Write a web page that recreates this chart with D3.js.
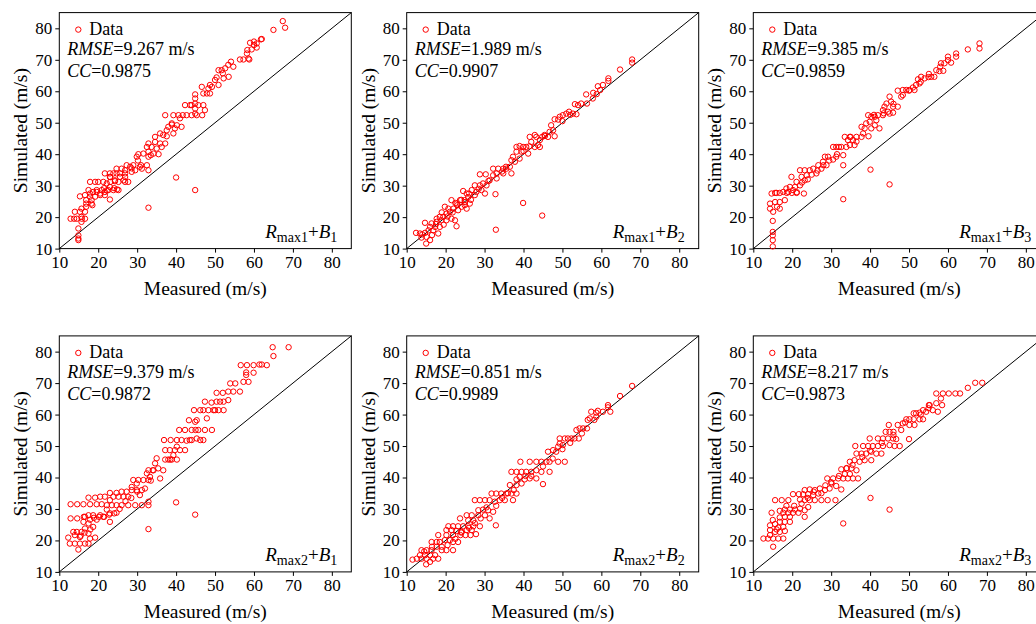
<!DOCTYPE html>
<html lang="en">
<head>
<meta charset="UTF-8">
<title>Measured vs Simulated</title>
<style>
  html, body { margin: 0; padding: 0; background: #fff; overflow: hidden; }
  svg text { font-family: "Liberation Serif", "Times New Roman", serif; fill: #000; }
</style>
</head>
<body>
<svg id="chart" width="1036" height="624"></svg>
<script src="https://d3js.org/d3.v7.min.js"></script>
<script>
// tick labels shared by both axes
const ticks = [10, 20, 30, 40, 50, 60, 70, 80];
// panel names: R_max? + B_?
const rSub = ["max1", "max1", "max1", "max2", "max2", "max2"];
const bSub = ["1", "2", "3", "1", "2", "3"];
const rmse = ["9.267", "1.989", "9.385", "9.379", "0.851", "8.217"];
const cc = ["0.9875", "0.9907", "0.9859", "0.9872", "0.9989", "0.9873"];

// [measured, simulated]
const ptsR1B1 = [[67.4,82.3],[68,80.2],[65,79.5],[61.8,76.5],[62,76.6],[60,75.8],[60,74.7],[59,75.4],[60.7,73.9],[60.7,75.2],[59.4,73.3],[58.3,73.1],[58.2,72],[58.6,70.4],[57.3,70.1],[58.8,70.1],[56.4,70.1],[54.7,67.8],[54.1,69.4],[53.4,68.4],[52.6,67.3],[51.7,66.7],[50.9,66.7],[52,65.7],[52.2,64.1],[53.5,64.6],[50.4,64.4],[50,63.6],[50.9,62],[49.2,61.4],[48.3,60.9],[48.7,62],[46.6,61.4],[47,59.3],[47.9,59.3],[48.7,59.3],[44.9,59],[44.9,57.7],[44.9,56.1],[44.9,54.5],[44.9,52.9],[43.6,55.6],[42.3,55.6],[45.7,55.6],[47,55.6],[47.4,54],[46.7,52.4],[42.7,52.4],[41.7,52.4],[41,51.4],[40.6,52.4],[39.3,52.4],[37.2,52.4],[38.9,49.8],[40.2,49.2],[41.4,48.7],[39.7,48.2],[38,48.7],[37.6,47.6],[39.3,46.6],[36.7,46.1],[37.6,45.7],[35.9,46.6],[34.6,45.5],[34.6,43.9],[32.9,43.4],[35.9,43.4],[37.2,43.4],[33.7,42.3],[35,41.8],[36.3,42.3],[32.5,42.3],[32.9,40.8],[34.2,40.2],[35.5,40],[31.6,40.2],[30.3,40],[29.9,39.2],[32.9,39.2],[32.5,36.5],[32.9,34.9],[30.7,36],[29,36.5],[28.2,36],[27.3,36.5],[29.5,34.9],[28.6,34.4],[26.9,34.9],[26,35.4],[24.7,35.4],[24.7,33.9],[23.9,33.9],[23,33.9],[23,32.8],[24.3,31.7],[25.6,32.8],[26.5,31.7],[27.7,31.2],[25.2,31.2],[21.7,33.9],[21.3,31.2],[20,31.2],[19.2,31.2],[17.9,31.2],[22.2,30.7],[23,29.6],[23.9,28.6],[25.2,28.6],[22.6,28.6],[21.7,28],[20.9,28.6],[20.5,27.5],[19.6,28],[18.7,28],[17.9,27.5],[17.5,28.6],[16.6,27],[17.9,26.5],[19.2,26.5],[20.5,27],[21.7,27],[23,25.6],[16.9,25.4],[18.3,25.4],[16.9,24.3],[18.3,24.3],[16.9,23.3],[18.5,23.8],[15.3,26.6],[15.7,22.7],[15.3,21.7],[14,21.7],[15.7,20.1],[14.5,19.5],[12.9,19.5],[16.6,19.5],[15.7,18.5],[14.9,16.4],[14.9,14.2],[14.9,13.2],[14.9,12.7],[13.8,19.5],[15.8,19.5],[16.6,21.7],[19.6,28.6],[22.2,28.5],[24.8,28.8],[21.5,29.2],[24.1,29.2],[23.1,31.2],[24.3,31.4],[26.9,31.2],[23.1,32.7],[26.9,32.8],[25.6,33.9],[26.9,33.9],[28.6,35.5],[31.2,35.4],[33.5,39.7],[38.9,49.4],[44,52.4],[45.3,52.4],[44,55.6],[30.2,38],[31,36.5],[32.9,23],[40,32.6],[44.9,28.6]];

const ptsR1B2 = [[67.9,70.1],[67.9,69.1],[64.8,66.9],[61.8,64.1],[61.8,63.3],[60.4,62],[59.1,61.6],[59.7,60.4],[58.8,59.1],[57.9,59.5],[57.8,57.7],[56.1,59],[56.3,56.1],[54.8,56.1],[54,55.6],[53.2,55.9],[53.6,52.7],[52.7,52.9],[51.7,53.5],[51,52.9],[50.1,52.4],[49.3,51.9],[48.9,51],[48,51.1],[47.1,49.2],[47.6,47.6],[48,45.7],[46.7,47.1],[46.3,45.5],[45.4,46.1],[44.8,45.5],[44.2,44.5],[43.3,45.5],[42.9,46.1],[41.6,45.5],[42,43.9],[40.7,42.3],[39.9,42.3],[39,42.6],[38.2,42.3],[39.5,40.8],[41.2,40.2],[42.9,42.3],[44.2,42.3],[43.7,42.9],[38.2,40.8],[37.3,39.2],[36.9,38.1],[39,38.6],[37.8,37.6],[36.5,36],[35.6,35.4],[34.8,35.4],[33.5,35.4],[32.2,35.4],[36.9,33.9],[34.8,33.9],[33.1,33.9],[32.2,33.3],[33.1,32.3],[31.3,31.7],[30.5,30.1],[29.6,30.7],[28.8,30.1],[27.5,30.1],[30.3,33.6],[28.8,33.6],[29.2,28.6],[27.9,28],[26.7,28.6],[24.5,28.3],[30.1,27.5],[25.4,27.5],[25.8,26.4],[24.9,25.4],[23.7,25.4],[22.8,24.3],[21.5,25.4],[26.2,24.3],[24.9,23.8],[24.1,23.3],[25.4,22.7],[23.2,22.2],[22,22.7],[20.7,22.7],[19.8,23.3],[21.1,21.7],[20.2,21.1],[19.4,20.1],[18.5,20.1],[17.7,19.5],[18.9,19],[20.2,19],[21.5,19.5],[22.4,19],[17.7,18.5],[16.4,18],[14.7,18.2],[16,16.9],[17.3,16.9],[18.5,16.9],[15.6,15.8],[16.8,15.8],[14.7,15],[13.4,14.8],[12.4,15],[13.8,13.5],[15.1,13.7],[15,11.6],[16,12.7],[18.1,14.8],[19,21.5],[20.5,20.2],[21.8,21.5],[23,23.8],[17.5,17.8],[19.5,17.6],[22.5,24.5],[24,25.5],[25,24.8],[26.5,25.5],[27.5,27],[28.5,29],[26,27.5],[31,31.5],[34.5,34.5],[35.5,36],[40,41],[41.5,42.5],[45.5,45.8],[50,50.5],[52,52.5],[14,14.5],[16.5,14.3],[22.8,17.1],[32.8,27.3],[32.9,16],[39.9,24.5],[44.8,20.5]];

const ptsR1B3 = [[68.1,75.2],[68.1,73.6],[65.1,73.3],[62.1,72],[62.1,71],[60,71],[60,69.9],[60.8,69.1],[59.1,68.9],[58.2,68.9],[58,67.8],[57.8,66.4],[58.8,66.5],[57,66.7],[56.5,64.6],[55.7,64.6],[55.1,65.5],[54,64.1],[53.1,64.6],[52.3,63.8],[52.7,62.5],[51.8,62],[51,61.2],[51.4,60.4],[50.1,60.4],[49.3,60.4],[48.4,60.4],[47.1,60.2],[48,58.3],[48.4,58.8],[45,58.3],[45.4,56.7],[45.9,55.1],[47.1,55.1],[44.2,56.1],[43.7,55.1],[43.3,54],[44.6,53.5],[43.3,52.4],[45,52.9],[45.9,53.2],[42,52.4],[41.2,51.9],[39.5,52.4],[40.3,51.9],[41.6,50.8],[39.9,50.3],[41.2,49.2],[40.3,48.2],[42.4,48.2],[38.6,48.2],[37.8,48.7],[39,49.8],[38.2,46.6],[39.6,45.7],[37.8,45.5],[36.5,45.5],[34.8,45.5],[33.5,45.5],[34.3,44.5],[35.6,44.5],[34.8,42.9],[36,42.9],[33.9,42.3],[32.6,42.3],[31.3,42.3],[30.5,42.3],[33.1,39.7],[31.3,39.2],[30.5,38.3],[29.2,39.2],[28.4,39.2],[27.9,37.6],[28.8,36.5],[27.5,35.4],[26.7,36.5],[25.4,35.4],[26.2,33.9],[24.5,34.9],[23.2,34.9],[22,34.9],[23.7,33.3],[22.4,32.8],[23.2,31.7],[21.1,31.2],[19.8,32.8],[22,30.1],[20.7,29.6],[19.4,29.6],[18.5,29.1],[20.2,28.6],[19,28],[17.7,28],[16.8,27.7],[15.6,27.7],[14.7,27.5],[21.1,27.7],[23,27.5],[18.1,25.4],[16.8,24.8],[15.6,24.8],[14.3,24.3],[16.1,23.3],[16.8,22.7],[14.3,22.7],[15.1,21.7],[15,18.8],[15,15.3],[15,14.2],[15,12.7],[15,10.7],[16,27.7],[18.6,27.7],[19.9,27.7],[21.2,27.9],[22.5,31],[24,32],[25,33.5],[26.5,34.8],[28,36.5],[29.5,38],[31.5,40],[32,42.3],[35,45.5],[36.5,44],[41,52.5],[43.5,53],[46,56],[50,60.2],[53,63],[55,64.5],[33.1,36.5],[33.1,25.7],[40.1,35.1],[45,30.4]];

const ptsR2B1 = [[64.8,81.4],[68.9,81.4],[65,78.6],[63.3,75.7],[62,75.9],[61.4,75.9],[59.9,75.7],[58.2,75.7],[56.6,75.7],[58,73.4],[58,72.6],[59.9,73.3],[58.6,70.4],[57.3,70.4],[56.4,67.3],[54.7,67.3],[55.2,69.9],[53.9,69.9],[53.4,67.3],[53.4,64.6],[52.2,64.1],[51.3,64.1],[50.4,64.1],[50.4,66.9],[52,66.9],[52.2,61.4],[50.9,61.4],[49.6,61.4],[48.3,61.4],[47,61.4],[46.2,61.4],[44.6,61.4],[47.4,64.1],[49.1,63.8],[47.9,58.8],[45.3,58.2],[43.3,58.2],[44.9,57.7],[49.2,55.1],[47.4,55.1],[45.7,55.1],[44,55.1],[42.3,55.1],[40.8,55.1],[46.2,51.9],[47,51.9],[45.3,52.4],[44,51.9],[42.7,51.7],[41.4,51.9],[40.2,51.9],[38.6,51.9],[36.9,51.9],[42.3,48.7],[41,48.7],[39.7,48.7],[38.4,48.7],[37.2,48.7],[40.2,49.8],[39.3,47.1],[40.2,45.7],[38.9,45.7],[38,45.7],[37.2,45.7],[35,46.1],[34.6,44.5],[35.4,42.9],[36.7,42.3],[34.2,42.3],[32.9,42.3],[32.5,41.3],[33.3,40.2],[35.9,39.7],[32.9,39.2],[31.6,39.2],[30.3,39.2],[29,39.2],[29.9,38.1],[28.6,37],[31.2,36],[29.9,36],[28.6,36],[27.3,35.5],[26,35.5],[24.7,35.1],[23,35.1],[23.9,33.9],[25.2,33.9],[26.5,33.9],[27.7,33.9],[30.7,34.4],[23,32.8],[21.7,33.9],[20.5,33.9],[19.2,33.6],[17.5,33.6],[20.9,31.5],[19.6,31.5],[17.9,31.5],[16.2,31.5],[14.6,31.5],[12.9,31.5],[22.2,31.2],[23.5,31.2],[24.7,31.2],[26,31.2],[27.7,31.2],[29.5,31.2],[31.2,31.2],[32.9,31.2],[24.7,28.8],[22.2,29.8],[23,28.6],[21.3,27.5],[20.5,28],[18.7,28],[17.5,28],[16.6,27.5],[12.9,27],[14.6,27],[17.9,26.6],[19.6,26.6],[23,25.9],[16.2,25.9],[17.5,25.4],[18.7,24.3],[16.6,23.8],[17.5,22.2],[15.7,22.7],[14.5,22.7],[13.6,22.7],[15.3,21.1],[14,21.7],[12.3,20.9],[12.7,19],[14,19],[15.3,19],[16.6,19],[17.5,19],[19.2,20.9],[17.9,20.6],[14.9,17.1],[16.3,27.5],[18.9,27.2],[20.2,27.5],[21.5,27.5],[22.8,28.2],[24.1,28.6],[25.5,30],[27,32.5],[28.5,33.5],[30,35.5],[32,36.5],[33.5,39],[34,42.3],[38.5,45.7],[43.5,51.9],[45,55.1],[50,61.4],[15.5,21.5],[16.5,22.5],[18,23.5],[32.9,32.3],[32.9,23.6],[40,32.1],[44.9,28.2]];

const ptsR2B2 = [[67.9,69.1],[64.8,65.9],[61.7,63],[61.7,62.3],[62.3,60.9],[60.4,60.9],[59.1,61.2],[58.7,60.6],[57.4,60.9],[57,58.8],[58.2,58.3],[58.7,59.3],[56.5,58.3],[56.3,55.6],[55.3,55.6],[54.4,55.6],[53.6,55.1],[54.2,52.4],[53.1,52.4],[52.3,52.4],[51.4,52.4],[50.6,52.4],[49.3,52.4],[49.3,50.8],[50.1,50.3],[48.9,49.8],[48.4,48.2],[47.6,48.7],[46.3,48.2],[50.6,45],[48.9,45],[46.7,45],[45.9,45],[44.6,45],[43.3,45],[41.6,45],[39.2,45],[45,37.9],[46.7,41.8],[44.6,41.8],[43.3,42.3],[42,41.8],[40.7,41.8],[39.5,41.8],[38.2,41.8],[36.9,41.8],[43.3,39.7],[41.6,39.7],[40.3,39.4],[39,40.2],[38.2,39.4],[39.5,38.1],[38.2,37.6],[36.5,37.6],[35.6,34.9],[36.9,34.9],[34.3,34.9],[33,34.9],[31.8,34.9],[38.2,34.9],[35.2,32.8],[33.9,32.8],[32.6,32.3],[31.3,32.8],[30.1,32.8],[28.8,32.8],[27.5,32.8],[37.3,32.8],[30.9,29.6],[29.6,29.8],[28.4,29.6],[32.2,29.1],[30.1,28],[31.3,27],[28.4,28],[26.7,28],[25.4,28],[27.1,26.4],[25.8,26.4],[23.7,27],[28.8,24.5],[27.1,24.5],[25.8,24.5],[24.5,24.5],[23.2,24.5],[21.9,24.5],[20.7,24.5],[26.7,23.3],[25.4,23.3],[24.1,22.7],[22.8,23],[21.5,23.3],[20.2,23.3],[27.8,22],[26.4,21.7],[25.1,21.7],[23.8,21.7],[21.9,21.7],[20.2,21.7],[18.1,21.7],[21.9,19.5],[21.1,20.1],[19.8,20.1],[18.5,19.5],[17.7,19.5],[16.4,19.5],[23.2,19.5],[21.9,16.9],[20.2,16.9],[19,16.9],[17.7,18],[16.4,16.9],[15.1,16.9],[13.8,16.9],[17.3,15.3],[16,15.3],[14.7,15.3],[13.4,15.3],[18.1,14.2],[16.8,14.2],[15.1,14.2],[13.8,14.2],[12.6,14.2],[11.5,13.9],[15,12.4],[16,13.2],[19,18],[20.5,18.5],[22.5,20.5],[24,22.5],[26,24],[27.5,25.5],[29,27],[30.5,30.5],[33,31],[34.5,33.5],[36,35],[37.5,36],[40.5,40.5],[42,40.5],[45,43.5],[47.5,46],[50,49],[52,51],[55,54],[14.5,16.5],[16.5,18],[32.9,24.8]];

const ptsR2B3 = [[67,70.1],[68.8,70.1],[65.1,68.5],[63.1,66.7],[61.9,66.7],[60.2,66.7],[58.7,66.7],[57,66.7],[58.2,65.1],[57,63.6],[58.5,63],[55.3,63],[57.4,60.9],[56.1,61.4],[54.4,60.9],[55.1,63],[53.6,61.4],[52.7,60.6],[51.8,60.4],[51.2,60.4],[51.2,58.5],[52.7,58.5],[53.6,58.5],[50.1,58.5],[49.3,58.5],[48.4,57.2],[50.1,56.7],[51.4,56.7],[47.1,56.7],[44.8,56.7],[45,54.5],[46,54.5],[44,54.5],[48,55.1],[50,52.2],[46.7,52.2],[45.9,52.4],[44.6,52.4],[43.3,52.4],[42,52.4],[39.9,52.4],[45,50.3],[46.3,50],[47.6,50],[43.3,50],[42,50],[40.7,50],[39.5,50],[38.2,50],[36.2,50],[42.9,47.6],[41.6,47.6],[40.3,48.2],[39,47.6],[37.8,47.6],[36.5,47.6],[40.3,45.5],[38.6,45.5],[37.3,45],[36,45.5],[34.8,45],[36.5,42.3],[35.2,42.9],[33.9,42.9],[32.6,42.6],[34.8,41.1],[33.5,41.1],[36.9,39.7],[35.6,39.7],[34.3,39.7],[33.1,39.7],[31.8,39.7],[30.5,39.7],[29,39.7],[30.1,38.1],[31.3,37.3],[32.6,36.2],[29.6,36.5],[28.4,36],[27.1,36.5],[25.8,36],[24.5,36.2],[23.2,36],[26.7,34.9],[25.4,34.4],[24.1,34.7],[22.8,34.7],[21.7,34.7],[20.2,34.7],[24.5,32.8],[25.8,32.8],[27.5,32.8],[29.1,32.8],[31.1,32.8],[23.2,32.8],[19,32.8],[17.3,32.8],[15.6,32.8],[22.4,31.7],[24.1,30.6],[23.2,29.6],[22,30.1],[20.7,29.8],[19.4,29.8],[18.1,29.8],[16.8,29.4],[21.6,28.8],[20.2,28.8],[19,28.8],[17.7,28.8],[14.7,28.8],[23.2,27.5],[19.4,27.5],[18.1,27.5],[16.8,27.3],[19.4,25.9],[18.1,25.9],[16.8,25.9],[15.6,25.2],[14.3,24.8],[17.7,24.3],[16.4,24.1],[14.3,23.3],[18.1,23],[16.8,22.7],[15.6,22.7],[14.3,21.7],[17.7,20.6],[16.4,20.6],[15.1,20.6],[13.8,20.6],[12.6,20.6],[15.1,18],[18.5,31],[20.5,31],[22,33],[24,33.5],[25.5,35.5],[27.5,35],[28.5,37.5],[30,38.5],[32,40.5],[34,43],[35.5,44],[38,46.5],[40,48.5],[43,51],[46,53.5],[49,57.5],[53,60],[55,62],[16,23.5],[15,26.5],[33.1,25.4],[40.1,33.5],[45,29.8]];

const panels = [ptsR1B1, ptsR1B2, ptsR1B3, ptsR2B1, ptsR2B2, ptsR2B3];

const colLeft = [59.3, 406.7, 753.3];
const rowTop = [12.6, 335.9];
const w = 292, h = 236;

const svg = d3.select("#chart");

const x = d3.scaleLinear().domain([10, 85]).range([0, w]);
const y = d3.scaleLinear().domain([10, 85]).range([h, 0]);

panels.forEach((pts, i) => {
  const g = svg.append("g")
    .attr("transform", `translate(${colLeft[i % 3]},${rowTop[Math.floor(i / 3)]})`);

  // axes
  const gx = g.append("g").attr("transform", `translate(0,${h})`)
    .call(d3.axisBottom(x).tickValues(ticks).tickSize(4).tickSizeOuter(0).tickPadding(3));
  const gy = g.append("g")
    .call(d3.axisLeft(y).tickValues(ticks).tickSize(4).tickSizeOuter(0).tickPadding(3));
  [gx, gy].forEach(a => {
    a.select(".domain").remove();
    a.selectAll("line").attr("stroke", "#000");
    a.selectAll("text").attr("font-size", 17)
      .attr("font-family", "Liberation Serif, Times New Roman, serif");
  });

  // frame
  g.append("rect").attr("width", w).attr("height", h)
    .attr("fill", "none").attr("stroke", "#000").attr("stroke-width", 1);

  // 1:1 line
  g.append("line")
    .attr("x1", x(10)).attr("y1", y(10)).attr("x2", x(85)).attr("y2", y(85))
    .attr("stroke", "#000").attr("stroke-width", 1);

  // points
  g.append("g").selectAll("circle").data(pts).join("circle")
    .attr("cx", d => x(d[0])).attr("cy", d => y(d[1])).attr("r", 2.7)
    .attr("fill", "none").attr("stroke", "#f00").attr("stroke-width", 1);

  // axis titles
  g.append("text").attr("x", w / 2).attr("y", h + 46)
    .attr("text-anchor", "middle").attr("font-size", 19.5).text("Measured (m/s)");
  g.append("text").attr("transform", `translate(-32,${h / 2}) rotate(-90)`)
    .attr("text-anchor", "middle").attr("font-size", 19.5).text("Simulated (m/s)");

  // legend + stats
  g.append("circle").attr("cx", 19).attr("cy", 17).attr("r", 2.7)
    .attr("fill", "none").attr("stroke", "#f00");
  g.append("text").attr("x", 30).attr("y", 22.5).attr("font-size", 18).text("Data");

  const t1 = g.append("text").attr("x", 8).attr("y", 42).attr("font-size", 18);
  t1.append("tspan").attr("font-style", "italic").text("RMSE");
  t1.append("tspan").text(`=${rmse[i]} m/s`);
  const t2 = g.append("text").attr("x", 8).attr("y", 64.5).attr("font-size", 18);
  t2.append("tspan").attr("font-style", "italic").text("CC");
  t2.append("tspan").text(`=${cc[i]}`);

  // model name
  const t3 = g.append("text").attr("x", w - 14).attr("y", h - 11)
    .attr("text-anchor", "end").attr("font-size", 19);
  t3.append("tspan").attr("font-style", "italic").text("R");
  t3.append("tspan").attr("font-size", 14).attr("dy", 4).text(rSub[i]);
  t3.append("tspan").attr("dy", -4).text("+");
  t3.append("tspan").attr("font-style", "italic").text("B");
  t3.append("tspan").attr("font-size", 14).attr("dy", 4).text(bSub[i]);
});
</script>
</body>
</html>
